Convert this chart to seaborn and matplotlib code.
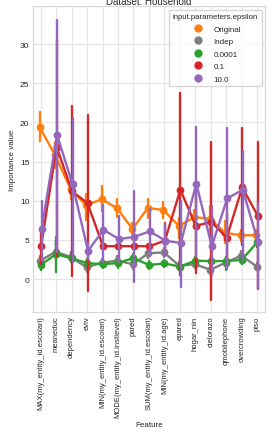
import numpy as np
import pandas as pd
import seaborn as sns
import matplotlib
matplotlib.use("Agg")
import matplotlib.pyplot as plt
from matplotlib.lines import Line2D

features = ["MAX(my_entity_id.escolari)", "meaneduc", "dependency", "eviv",
            "MIN(my_entity_id.escolari)", "MODE(my_entity_id.instlevel)", "pared",
            "SUM(my_entity_id.escolari)", "MIN(my_entity_id.age)", "epared",
            "hogar_nin", "cielorazo", "qmobilephone", "overcrowding", "piso"]
eps_levels = ["Original", "Indep", "0.0001", "0.1", "10.0"]

orig_mid = [19.4, 15.8, 11.5, 9.4, 10.2, 9.05, 6.4, 9.1, 8.8, 6.8, 7.9, 7.7, 5.9, 5.6, 5.6]
orig_lo = [17.6, 14.2, 10.2, 7.5, 8.7, 7.9, 5.8, 7.8, 7.8, 5.3, 6.6, 5.5, 4.6, 4.8, 4.8]
orig_hi = [21.3, 17.5, 13.0, 10.8, 11.9, 10.2, 7.2, 10.2, 9.9, 7.8, 8.8, 9.3, 7.4, 6.3, 6.3]

indep_mid = [2.35, 3.5, 2.8, 1.5, 2.1, 2.35, 1.9, 3.3, 3.4, 1.7, 1.9, 1.2, 2.1, 3.0, 1.6]
indep_lo = [1.8, 2.5, 2.2, 0.9, 1.6, 1.8, 1.3, 2.7, 2.8, 1.2, 1.4, 0.7, 1.6, 2.4, 1.1]
indep_hi = [2.9, 5.4, 3.4, 2.1, 2.6, 2.9, 2.5, 3.9, 4.0, 2.2, 2.4, 1.7, 2.6, 3.6, 2.1]

e4_mid = [1.8, 3.2, 2.65, 2.05, 1.9, 2.05, 2.7, 1.8, 2.0, 1.6, 2.35, 2.3, 2.3, 2.45, 4.7]
e4_lo = [1.2, 0.9, 2.1, 1.5, 1.4, 1.4, 2.2, 1.3, 1.5, 1.1, 1.9, 1.8, 1.1, 1.9, 4.1]
e4_hi = [2.4, 5.0, 3.2, 2.6, 2.4, 2.6, 3.2, 2.3, 2.5, 2.1, 2.8, 2.8, 2.8, 3.0, 5.3]

e1_mid = [4.2, 16.9, 11.2, 9.7, 4.2, 4.2, 4.2, 4.2, 4.9, 11.4, 6.8, 7.3, 5.3, 11.7, 8.1]
e1_lo = [1.9, 3.0, 0.4, -1.5, 3.9, 3.9, 3.9, 3.9, 3.5, 0.5, 0.8, -2.7, 2.2, 4.3, -1.3]
e1_hi = [6.0, 30.5, 22.1, 21.0, 4.5, 4.5, 4.5, 4.5, 7.2, 23.7, 12.0, 17.5, 8.4, 19.3, 17.5]

e10_mid = [6.4, 18.4, 12.1, 3.6, 6.3, 5.1, 5.4, 6.1, 4.9, 4.6, 12.2, 4.2, 10.3, 11.4, 4.7]
e10_lo = [2.5, 3.5, 2.2, 2.6, 2.2, 2.2, -0.4, 3.0, 3.0, -1.0, 3.0, 0.5, 1.3, 2.5, -1.2]
e10_hi = [10.0, 33.1, 20.6, 4.6, 9.5, 8.0, 11.3, 9.0, 7.0, 10.0, 19.4, 9.3, 19.3, 16.4, 9.7]

palette = {"Original": "#ff7f0e", "Indep": "#7f7f7f", "0.0001": "#2ca02c",
           "0.1": "#d62728", "10.0": "#9467bd"}

series = {"Original": (orig_lo, orig_mid, orig_hi),
          "Indep": (indep_lo, indep_mid, indep_hi),
          "0.0001": (e4_lo, e4_mid, e4_hi),
          "0.1": (e1_lo, e1_mid, e1_hi),
          "10.0": (e10_lo, e10_mid, e10_hi)}

rows = []
for lvl, (lo, mid, hi) in series.items():
    for f, a, b, c in zip(features, lo, mid, hi):
        for v in (a, b, c):
            rows.append({"Feature": f, "Importance value": v,
                         "input.parameters.epsilon": lvl})
df = pd.DataFrame(rows)

sns.set_theme(style="whitegrid")
plt.rcParams["font.family"] = ["Liberation Sans", "DejaVu Sans"]

fig = plt.figure(figsize=(2.74, 4.39), dpi=100)
ax = fig.add_axes([0.12, 0.287, 0.847, 0.696])

sns.pointplot(data=df, x="Feature", y="Importance value",
              hue="input.parameters.epsilon", hue_order=eps_levels,
              order=features, palette=palette, estimator="median",
              errorbar=lambda x: (np.min(x), np.max(x)), dodge=True,
              markersize=4.3, linewidth=1.7, ax=ax)

ax.set_ylim(-4.2, 34.8)
ax.set_yticks([0, 5, 10, 15, 20, 25, 30])
ax.tick_params(axis="y", labelsize=6, pad=2.5, length=0)
ax.tick_params(axis="x", labelsize=5.5, pad=2.5, length=0, labelrotation=90)
ax.set_xlabel("Feature", fontsize=5.8, labelpad=3)
ax.set_ylabel("Importance value", fontsize=5.8, labelpad=3)
ax.set_title("Dataset: Household", fontsize=7, pad=2)
ax.grid(True, color="#e6e6e6", linewidth=0.9)
for s in ax.spines.values():
    s.set_color("#d9d9d9")
    s.set_linewidth(0.9)

handles = [Line2D([], [], marker="o", linestyle="", color=palette[l],
                  markersize=5) for l in eps_levels]
leg = ax.legend(handles, eps_levels, title="input.parameters.epsilon",
                loc="upper right", fontsize=5.8, title_fontsize=5.6,
                frameon=True, borderpad=0.45, labelspacing=0.6,
                handletextpad=0.9, borderaxespad=0.4)

fig.savefig("out.png", dpi=100)
